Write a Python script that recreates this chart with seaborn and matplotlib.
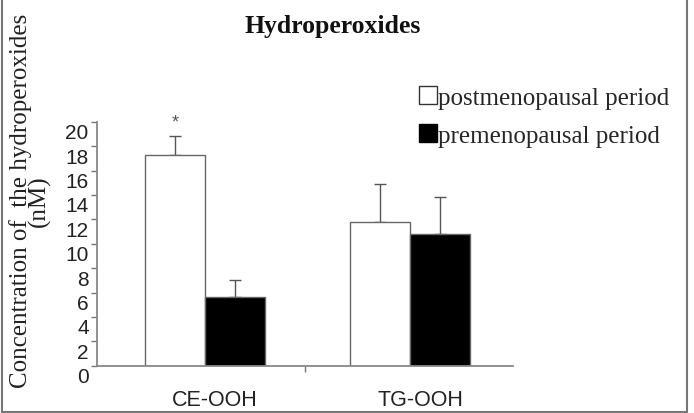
import matplotlib
matplotlib.use("Agg")
import matplotlib.pyplot as plt
import matplotlib.transforms as mtransforms
from matplotlib.patches import Patch
from matplotlib.lines import Line2D
import seaborn as sns
import pandas as pd

categories = ["CE-OOH", "TG-OOH"]
groups = ["postmenopausal period", "premenopausal period"]
post_values = [17.3, 11.8]
pre_values = [5.6, 10.8]
post_err = [1.5, 3.1]
pre_err = [1.4, 3.05]
yticks = [0, 2, 4, 6, 8, 10, 12, 14, 16, 18, 20]

df = pd.DataFrame({
    "category": categories * 2,
    "group": [groups[0]] * 2 + [groups[1]] * 2,
    "value": post_values + pre_values,
    "err": post_err + pre_err,
})

sns.set_theme(style="white")
plt.rcParams["font.family"] = ["Liberation Sans", "DejaVu Sans"]

fig = plt.figure(figsize=(6.94, 4.14), dpi=100)
ax = fig.add_axes([97 / 694, 47.3 / 414, (512.7 - 97) / 694, (366.7 - 122.7) / 414])

palette = {groups[0]: "white", groups[1]: "black"}
sns.barplot(data=df, x="category", y="value", hue="group", order=categories,
            hue_order=groups, palette=palette, width=0.585, errorbar=None,
            edgecolor="#666666", linewidth=1.0, legend=False, ax=ax, zorder=2)

# upward-only error bars aligned to the bars drawn by seaborn
bars = [p for p in ax.patches if p.get_height() > 0]
bars_sorted = sorted(bars, key=lambda p: p.get_x())
errs_in_order = []
for ci in range(len(categories)):
    errs_in_order += [post_err[ci], pre_err[ci]]
for p, e in zip(bars_sorted, errs_in_order):
    xc = p.get_x() + p.get_width() / 2
    h = p.get_height()
    ax.errorbar([xc], [h], yerr=[[0], [e]], fmt="none", ecolor="#555555",
                elinewidth=1.0, capsize=4, capthick=1.0, zorder=1)

ax.set_xlim(-0.527, 1.501)
ax.set_ylim(0, 20)
ax.set_yticks(yticks)
ax.set_yticklabels([str(t) for t in yticks], fontsize=15, color="#222222")
ax.tick_params(axis="y", which="major", length=4, width=1, color="#777777",
               direction="out", left=True, pad=2)
ax.set_xticks([0, 1])
ax.set_xticklabels(categories, fontsize=15.5, color="#222222")
ax.tick_params(axis="x", which="major", length=0, pad=17)
ax.set_xticks([0.49], minor=True)
ax.tick_params(axis="x", which="minor", length=4, width=1, color="#777777",
               direction="out", bottom=True)

# shift tick labels like in the reference
off_y = mtransforms.ScaledTranslation(0, -9 / 100, fig.dpi_scale_trans)
for lab in ax.get_yticklabels():
    lab.set_transform(lab.get_transform() + off_y)
off_x = mtransforms.ScaledTranslation(10 / 100, 0, fig.dpi_scale_trans)
for lab in ax.get_xticklabels():
    lab.set_transform(lab.get_transform() + off_x)

for s in ["top", "right"]:
    ax.spines[s].set_visible(False)
for s in ["left", "bottom"]:
    ax.spines[s].set_color("#888888")
    ax.spines[s].set_linewidth(1.3)
ax.set_xlabel("")
ax.set_ylabel("")

# significance star above CE-OOH postmenopausal bar
star_bar = bars_sorted[0]
ax.text(star_bar.get_x() + star_bar.get_width() / 2, 20.0, "*", ha="center",
        va="center", fontsize=13, color="#555555", clip_on=False)

serif = ["Liberation Serif", "DejaVu Serif"]
fig.text(333 / 694, 1 - 26 / 414, "Hydroperoxides", ha="center", va="center",
         fontsize=18.5, fontweight="bold", family=serif, color="#111111")
fig.text(30 / 694, 1 - 201 / 414, "Concentration of  the hydroperoxides\n(nM)",
         rotation=90, ha="center", va="center", multialignment="center",
         fontsize=18, family=serif, color="#222222", linespacing=0.8)

handles = [Patch(facecolor="white", edgecolor="#333333", linewidth=1.0),
           Patch(facecolor="black", edgecolor="black", linewidth=1.0)]
fig.legend(handles, groups, loc="upper left",
           bbox_to_anchor=(419 / 694, 1 - 87 / 414), frameon=False,
           prop={"family": serif, "size": 18}, handlelength=0.7,
           handleheight=0.7, handletextpad=0.05, labelspacing=0.62,
           borderaxespad=0, borderpad=0)

# figure frame (left, right, bottom)
frame_col = "#777777"
fig.add_artist(Line2D([2 / 694, 2 / 694], [0, 1], color=frame_col, lw=1.5))
fig.add_artist(Line2D([687 / 694, 687 / 694], [0, 1], color=frame_col, lw=1.5))
fig.add_artist(Line2D([2 / 694, 687 / 694], [1 / 414, 1 / 414], color=frame_col, lw=1.5))

fig.savefig("out.png", dpi=100)
